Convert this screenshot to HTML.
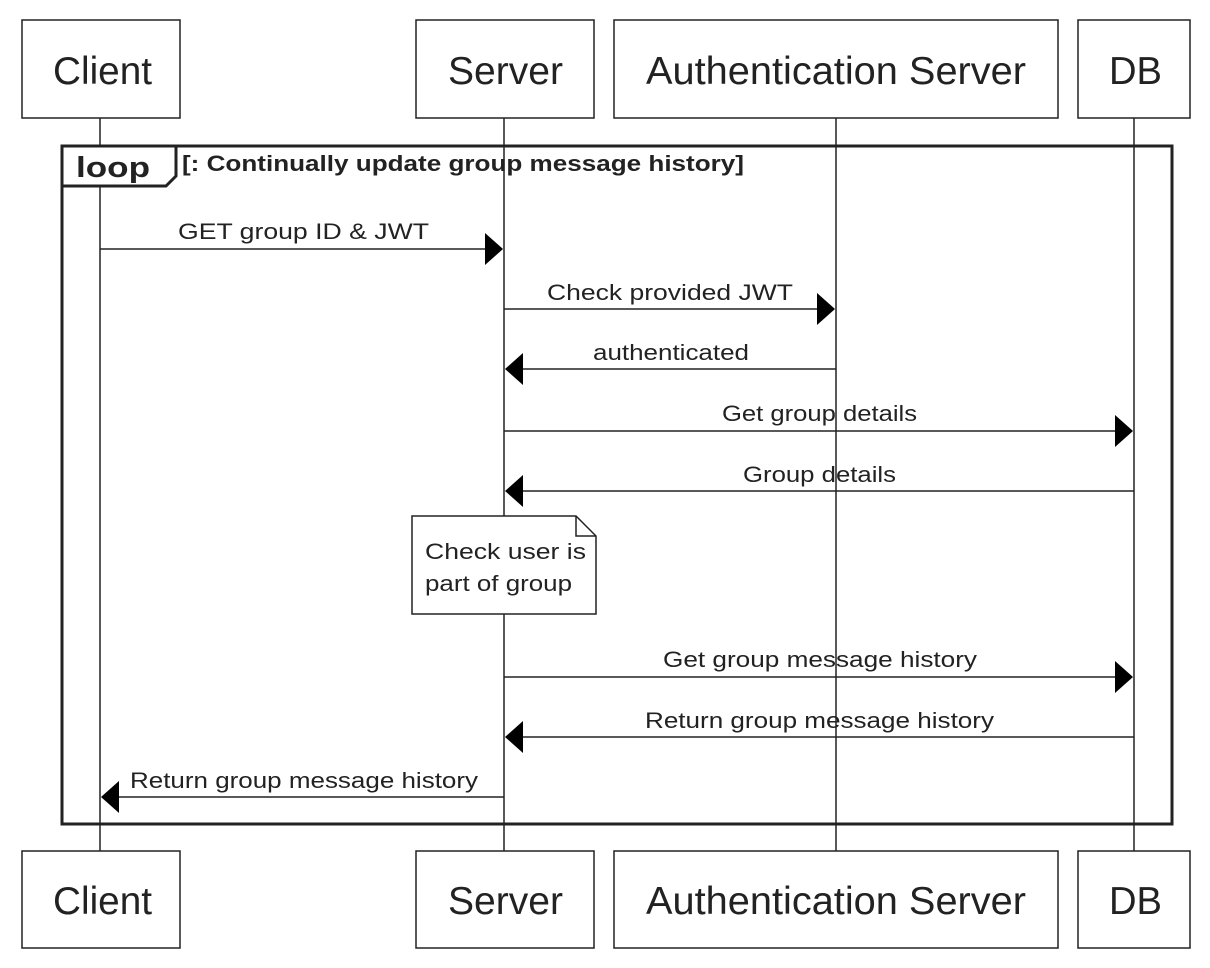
<!DOCTYPE html>
<html><head><meta charset="utf-8"><style>body{margin:0;background:#fff}svg{display:block}</style></head>
<body>
<svg width="1210" height="968" viewBox="0 0 1210 968" xmlns="http://www.w3.org/2000/svg" font-family="Liberation Sans, Arial, sans-serif">
<rect width="1210" height="968" fill="#fff"/>
<g stroke="#222" stroke-width="1.5">
<line x1="100" y1="118" x2="100" y2="851"/>
<line x1="504" y1="118" x2="504" y2="851"/>
<line x1="836" y1="118" x2="836" y2="851"/>
<line x1="1134" y1="118" x2="1134" y2="851"/>
</g>
<g fill="#fff" stroke="#222" stroke-width="1.5">
<rect x="22" y="20" width="158" height="98"/>
<rect x="416" y="20" width="178" height="98"/>
<rect x="614" y="20" width="444" height="98"/>
<rect x="1078" y="20" width="112" height="98"/>
<rect x="22" y="851" width="158" height="97"/>
<rect x="416" y="851" width="178" height="97"/>
<rect x="614" y="851" width="444" height="97"/>
<rect x="1078" y="851" width="112" height="97"/>
</g>
<g font-size="39" fill="#222" lengthAdjust="spacingAndGlyphs">
<text x="53" y="84" textLength="99" lengthAdjust="spacingAndGlyphs">Client</text>
<text x="448" y="84" textLength="115" lengthAdjust="spacingAndGlyphs">Server</text>
<text x="646" y="84" textLength="380" lengthAdjust="spacingAndGlyphs">Authentication Server</text>
<text x="1109" y="84" textLength="53" lengthAdjust="spacingAndGlyphs">DB</text>
<text x="53" y="914" textLength="99" lengthAdjust="spacingAndGlyphs">Client</text>
<text x="448" y="914" textLength="115" lengthAdjust="spacingAndGlyphs">Server</text>
<text x="646" y="914" textLength="380" lengthAdjust="spacingAndGlyphs">Authentication Server</text>
<text x="1109" y="914" textLength="53" lengthAdjust="spacingAndGlyphs">DB</text>
</g>
<rect x="62" y="146" width="1110" height="678" fill="none" stroke="#222" stroke-width="3"/>
<path d="M62 146 H176 V176 L166 186 H62 Z" fill="#fff" stroke="#222" stroke-width="3"/>
<text x="76" y="177" font-size="29" font-weight="bold" fill="#222" textLength="74" lengthAdjust="spacingAndGlyphs">loop</text>
<text x="182" y="171" font-size="22" font-weight="bold" fill="#222" textLength="562" lengthAdjust="spacingAndGlyphs">[: Continually update group message history]</text>
<g stroke="#222" stroke-width="1.5">
<line x1="100" y1="249" x2="490" y2="249"/>
<line x1="504" y1="309" x2="822" y2="309"/>
<line x1="518" y1="369" x2="836" y2="369"/>
<line x1="504" y1="431" x2="1120" y2="431"/>
<line x1="518" y1="491" x2="1134" y2="491"/>
<line x1="504" y1="677" x2="1120" y2="677"/>
<line x1="518" y1="737" x2="1134" y2="737"/>
<line x1="114" y1="797" x2="504" y2="797"/>
</g>
<g fill="#000">
<polygon points="485,233 503,249 485,265"/>
<polygon points="817,293 835,309 817,325"/>
<polygon points="523,353 505,369 523,385"/>
<polygon points="1115,415 1133,431 1115,447"/>
<polygon points="523,475 505,491 523,507"/>
<polygon points="1115,661 1133,677 1115,693"/>
<polygon points="523,721 505,737 523,753"/>
<polygon points="119,781 101,797 119,813"/>
</g>
<g font-size="22" fill="#222">
<text x="178" y="239" textLength="251" lengthAdjust="spacingAndGlyphs">GET group ID &amp; JWT</text>
<text x="547" y="300" textLength="246" lengthAdjust="spacingAndGlyphs">Check provided JWT</text>
<text x="593" y="360" textLength="156" lengthAdjust="spacingAndGlyphs">authenticated</text>
<text x="722" y="421" textLength="195" lengthAdjust="spacingAndGlyphs">Get group details</text>
<text x="743" y="482" textLength="153" lengthAdjust="spacingAndGlyphs">Group details</text>
<text x="663" y="667" textLength="314" lengthAdjust="spacingAndGlyphs">Get group message history</text>
<text x="645" y="728" textLength="349" lengthAdjust="spacingAndGlyphs">Return group message history</text>
<text x="130" y="788" textLength="348" lengthAdjust="spacingAndGlyphs">Return group message history</text>
</g>
<path d="M412 516 H576 L596 536 V614 H412 Z" fill="#fff" stroke="#222" stroke-width="1.5"/>
<path d="M576 516 V536 H596" fill="none" stroke="#222" stroke-width="1.5"/>
<g font-size="22" fill="#222">
<text x="425" y="559" textLength="161" lengthAdjust="spacingAndGlyphs">Check user is</text>
<text x="425" y="591" textLength="147" lengthAdjust="spacingAndGlyphs">part of group</text>
</g>
</svg>
</body></html>
